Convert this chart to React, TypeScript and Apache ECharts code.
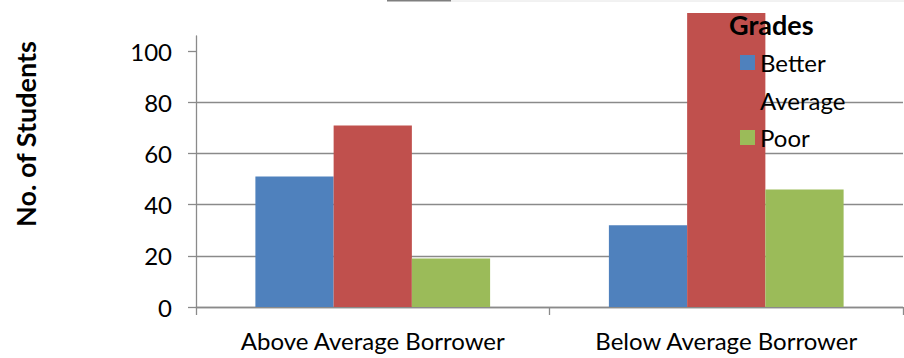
import React, { useEffect, useRef } from "react";
import * as echarts from "echarts";

// Students per grade, split by borrower group
const categories = ["Above Average Borrower", "Below Average Borrower"];
const gradeNames = ["Better", "Average", "Poor"];
const better = [51, 32];
const average = [71, 115];
const poor = [19, 46];
const yTickValues = [0, 20, 40, 60, 80, 100];

const gradeColors = ["#4F81BD", "#C0504D", "#9BBB59"];
const FONT = "Lato, 'Open Sans', sans-serif";

export default function App() {
  const ref = useRef<HTMLDivElement>(null);

  useEffect(() => {
    if (!ref.current) return;
    const chart = echarts.init(ref.current, undefined, { renderer: "svg" });
    const seriesData = [better, average, poor];

    chart.setOption({
      animation: false,
      backgroundColor: "#ffffff",
      textStyle: { fontFamily: FONT, color: "#000" },
      grid: { left: 196, right: 1, top: 36, bottom: 51, containLabel: false },
      title: {
        text: "Grades",
        left: 729,
        top: 11,
        padding: 0,
        textStyle: { fontFamily: FONT, fontWeight: "bold", fontSize: 27, color: "#000" },
      },
      legend: {
        orient: "vertical",
        left: 740,
        top: 50.5,
        padding: 0,
        itemWidth: 15,
        itemHeight: 15,
        itemGap: 13.5,
        icon: "rect",
        data: gradeNames,
        textStyle: { fontFamily: FONT, fontSize: 24, lineHeight: 24, color: "#000" },
      },
      xAxis: {
        type: "category",
        data: categories,
        axisLine: { show: true, lineStyle: { color: "#8a8a8a", width: 1.3 } },
        axisTick: { show: true, length: 8, lineStyle: { color: "#8a8a8a", width: 1.3 } },
        axisLabel: { fontFamily: FONT, fontSize: 24, color: "#000", margin: 21 },
        splitLine: { show: false },
      },
      yAxis: {
        type: "value",
        min: 0,
        max: 106,
        interval: 20,
        axisLine: { show: true, lineStyle: { color: "#8a8a8a", width: 1.3 } },
        axisTick: {
          show: true,
          length: 8,
          customValues: yTickValues,
          lineStyle: { color: "#8a8a8a", width: 1.3 },
        },
        axisLabel: {
          fontFamily: FONT,
          fontSize: 24,
          color: "#000",
          margin: 24,
          customValues: yTickValues,
        },
        splitLine: {
          show: true,
          showMaxLine: false,
          lineStyle: { color: "#8a8a8a", width: 1.3 },
        },
      },
      series: gradeNames.map((name, i) => ({
        name,
        type: "bar",
        data: seriesData[i],
        barGap: "0%",
        barCategoryGap: "33.6%",
        clip: false,
        itemStyle: { color: gradeColors[i] },
      })),
      graphic: [
        {
          type: "text",
          x: 25,
          y: 134,
          rotation: Math.PI / 2,
          style: {
            text: "No. of Students",
            fontFamily: FONT,
            fontWeight: "bold",
            fontSize: 27,
            fill: "#000",
            align: "center",
            verticalAlign: "middle",
          },
        },
        {
          type: "rect",
          shape: { x: 387, y: 0, width: 64, height: 1.5 },
          style: { fill: "#7f7f7f" },
        },
        {
          type: "line",
          shape: { x1: 451, y1: 1, x2: 904, y2: 1 },
          style: { stroke: "#e4e4e4", lineWidth: 1 },
        },
      ],
    });

    return () => chart.dispose();
  }, []);

  return (
    <div
      ref={ref}
      style={{ position: "fixed", left: 0, top: 0, width: 904, height: 358, background: "#fff" }}
    />
  );
}
